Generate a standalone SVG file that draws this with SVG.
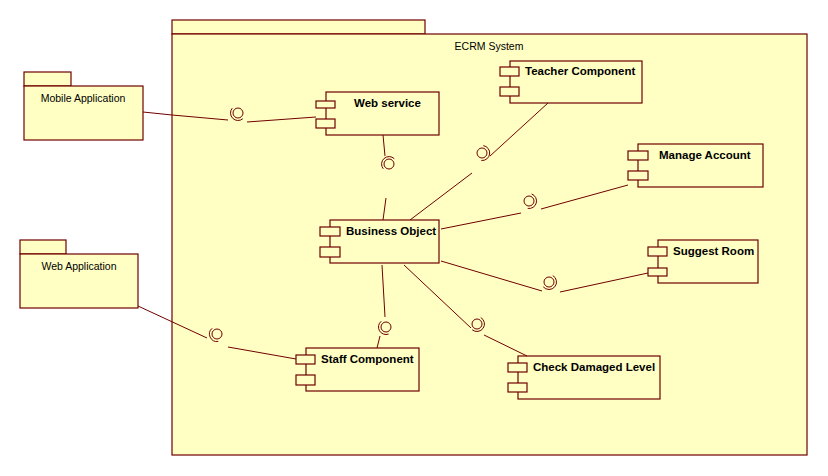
<svg xmlns="http://www.w3.org/2000/svg" width="828" height="476" viewBox="0 0 828 476">
<style>
.b{fill:#ffffc4;stroke:#700000;stroke-width:1.2}
.l{fill:none;stroke:#700000;stroke-width:1}
.t{font-family:"Liberation Sans",Arial,sans-serif;font-size:10.5px;fill:#000}
.bt{font-family:"Liberation Sans",Arial,sans-serif;font-size:11.5px;font-weight:bold;fill:#000}
</style>
<rect width="828" height="476" fill="#fff"/>
<g id="ecrm-system">
<rect class="b" x="172" y="20" width="253" height="14"/>
<rect class="b" x="172" y="34" width="635" height="421"/>
<text class="t" x="489" y="50" text-anchor="middle">ECRM System</text>
</g>
<g id="mobile-application">
<rect class="b" x="24" y="72" width="47" height="14"/>
<rect class="b" x="24" y="86" width="119" height="54"/>
<text class="t" x="83" y="102" text-anchor="middle">Mobile Application</text>
</g>
<g id="web-application">
<rect class="b" x="20" y="240" width="46" height="14"/>
<rect class="b" x="20" y="254" width="118" height="54"/>
<text class="t" x="79" y="270" text-anchor="middle">Web Application</text>
</g>
<g id="web-service">
<rect class="b" x="326" y="92" width="113" height="43"/>
<rect class="b" x="316" y="101" width="19" height="7"/>
<rect class="b" x="316" y="119" width="19" height="9"/>
<text class="bt" x="354" y="107">Web service</text>
</g>
<g id="teacher-component">
<rect class="b" x="510" y="61" width="132" height="42"/>
<rect class="b" x="500" y="67" width="19" height="9"/>
<rect class="b" x="500" y="87" width="19" height="9"/>
<text class="bt" x="525" y="75">Teacher Component</text>
</g>
<g id="manage-account">
<rect class="b" x="638" y="144" width="125" height="43"/>
<rect class="b" x="628" y="151" width="20" height="9"/>
<rect class="b" x="628" y="171" width="20" height="9"/>
<text class="bt" x="659" y="159">Manage Account</text>
</g>
<g id="business-object">
<rect class="b" x="330" y="220" width="109" height="43"/>
<rect class="b" x="320" y="227" width="20" height="9"/>
<rect class="b" x="320" y="247" width="20" height="10"/>
<text class="bt" x="346" y="235">Business Object</text>
</g>
<g id="suggest-room">
<rect class="b" x="658" y="240" width="100" height="43"/>
<rect class="b" x="648" y="247" width="19" height="9"/>
<rect class="b" x="648" y="268" width="19" height="8"/>
<text class="bt" x="673" y="255">Suggest Room</text>
</g>
<g id="check-damaged-level">
<rect class="b" x="518" y="356" width="142" height="43"/>
<rect class="b" x="508" y="363" width="19" height="9"/>
<rect class="b" x="508" y="383" width="19" height="9"/>
<text class="bt" x="533" y="371">Check Damaged Level</text>
</g>
<g id="staff-component">
<rect class="b" x="306" y="348" width="113" height="43"/>
<rect class="b" x="296" y="355" width="19" height="9"/>
<rect class="b" x="296" y="375" width="19" height="10"/>
<text class="bt" x="321" y="363">Staff Component</text>
</g>
<g id="connectors">
<polyline class="l" points="143,112 172,115 228,120"/>
<line class="l" x1="247" y1="122" x2="316" y2="117"/>
<circle class="l" cx="238" cy="113" r="5"/>
<path class="l" d="M232.26,108.18 A7.5,7.5 0 0 0 242.82,118.75"/>

<line class="l" x1="383" y1="135" x2="385" y2="156"/>
<line class="l" x1="386" y1="198" x2="383" y2="220"/>
<circle class="l" cx="389" cy="164" r="5"/>
<path class="l" d="M394.3,158.7 A7.5,7.5 0 0 0 383.26,168.82"/>

<line class="l" x1="548" y1="103" x2="490" y2="156"/>
<line class="l" x1="472" y1="173" x2="410" y2="220"/>
<circle class="l" cx="482" cy="153" r="5"/>
<path class="l" d="M483.3,145.6 A7.5,7.5 0 0 1 481.35,160.47"/>

<line class="l" x1="628" y1="185" x2="541" y2="209"/>
<line class="l" x1="521" y1="213" x2="441" y2="229"/>
<circle class="l" cx="529" cy="201" r="5"/>
<path class="l" d="M531.57,193.95 A7.5,7.5 0 0 1 527.7,208.39"/>

<line class="l" x1="441" y1="261" x2="542" y2="291"/>
<line class="l" x1="560" y1="292" x2="648" y2="273"/>
<circle class="l" cx="549" cy="282" r="5"/>
<path class="l" d="M552.75,275.5 A7.5,7.5 0 1 1 543.26,286.82"/>

<line class="l" x1="404" y1="265" x2="471" y2="328"/>
<line class="l" x1="484" y1="335" x2="527" y2="356"/>
<circle class="l" cx="477" cy="324" r="5"/>
<path class="l" d="M480.75,317.5 A7.5,7.5 0 1 1 472.18,329.75"/>

<line class="l" x1="382" y1="265" x2="385" y2="317"/>
<line class="l" x1="380" y1="336" x2="377" y2="348"/>
<circle class="l" cx="386" cy="327" r="5"/>
<path class="l" d="M381.18,321.25 A7.5,7.5 0 0 0 388.57,334.05"/>

<line class="l" x1="138" y1="306" x2="207" y2="338"/>
<line class="l" x1="228" y1="347" x2="296" y2="359"/>
<circle class="l" cx="217" cy="334" r="5"/>
<path class="l" d="M212.18,328.25 A7.5,7.5 0 0 0 218.3,341.39"/>
</g>
</svg>
